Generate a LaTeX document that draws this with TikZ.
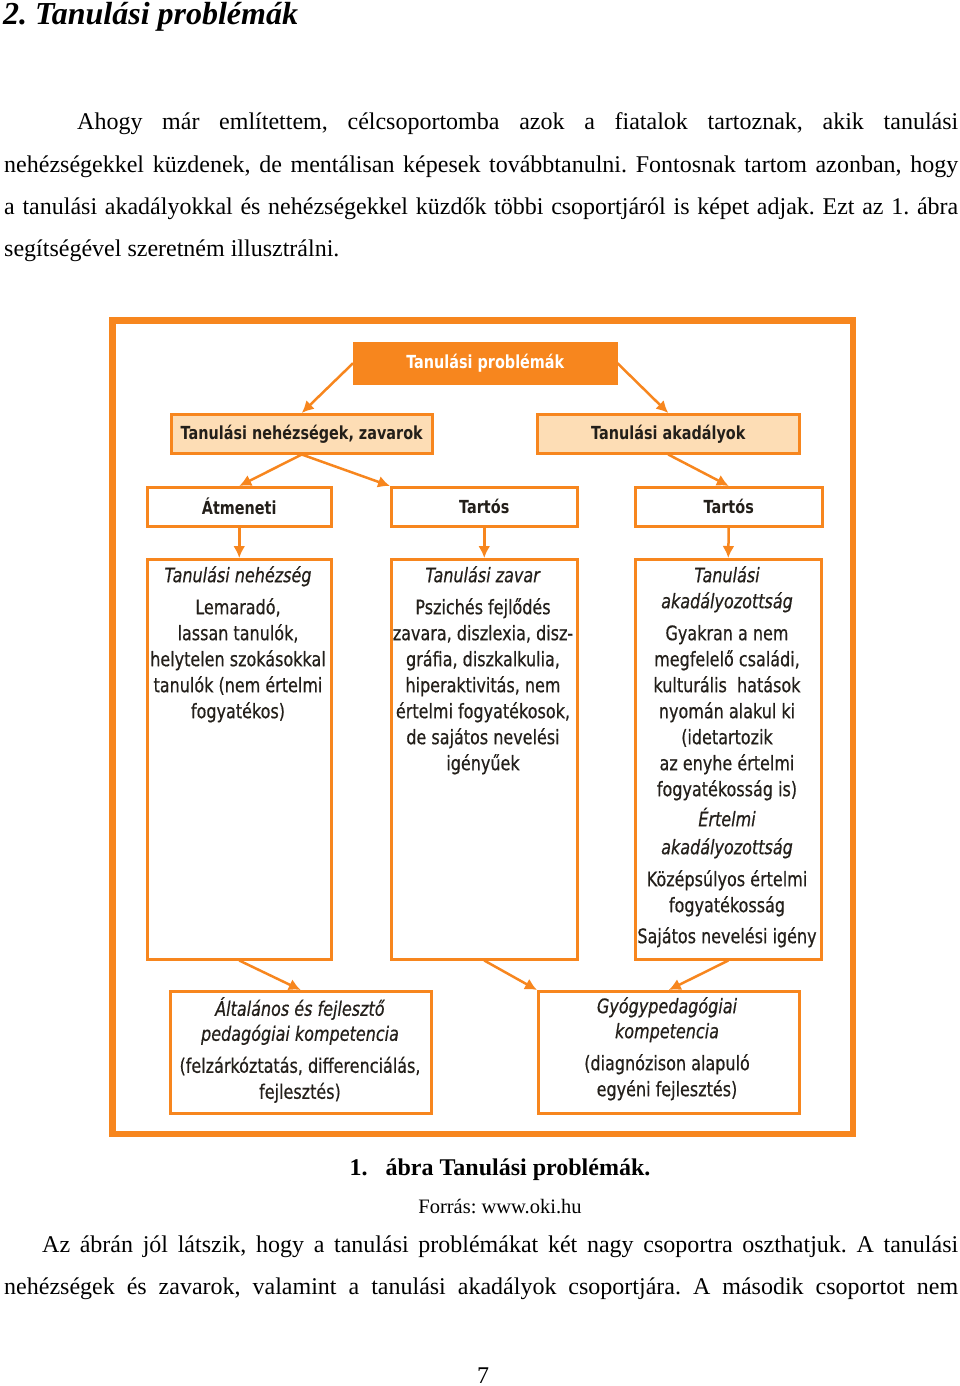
\documentclass[tikz,border=0pt]{standalone}
\usepackage{fontspec}
\setmainfont{Liberation Serif}
\newfontfamily\dgfont[FakeStretch=0.8]{DejaVu Sans}
\newfontfamily\dgfontm[FakeStretch=0.8,FakeBold=0.5]{DejaVu Sans}
\newfontfamily\bodyfont{Liberation Serif}
\usetikzlibrary{arrows.meta}
\definecolor{org}{HTML}{F7861E}
\definecolor{peach}{HTML}{FDDDB5}
\definecolor{ink}{HTML}{231F1A}
\frenchspacing
\tikzset{
  box/.style={draw=org, line width=2.5pt, fill=white, inner sep=0pt, anchor=north west, text=ink,
    font=\dgfont\bfseries\fontsize{18}{22}\selectfont},
  topbox/.style={box, fill=org, draw=org, text=white},
  midbox/.style={box, fill=peach},
  txt/.style={inner sep=0pt, anchor=north, align=center, text=ink, font=\dgfontm\fontsize{20}{26}\selectfont},
  arr/.style={draw=org, line width=2.5pt, -{Latex[length=12pt,width=12pt]}},
  body/.style={inner sep=0pt, anchor=base west, font=\bodyfont\fontsize{24}{28}\selectfont},
}
\begin{document}
\begin{tikzpicture}[x=1pt,y=-1pt]
\useasboundingbox (0,0) rectangle (960,1386);
% page text
\node[body, font=\bodyfont\fontsize{32}{36}\selectfont\bfseries\itshape] (head) at (3,25) {2. Tanulási problémák};
\node[body] (p1) at (77,130) {\makebox[881pt][s]{Ahogy már említettem, célcsoportomba azok a fiatalok tartoznak, akik tanulási}};
\node[body] (p2) at (4,172) {\makebox[954pt][s]{nehézségekkel küzdenek, de mentálisan képesek továbbtanulni. Fontosnak tartom azonban, hogy}};
\node[body] (p3) at (4,214) {\makebox[954pt][s]{a tanulási akadályokkal és nehézségekkel küzdők többi csoportjáról is képet adjak. Ezt az 1. ábra}};
\node[body] (p4) at (4,256) {segítségével szeretném illusztrálni.};

% frame
\draw[org, line width=6.5pt] (112.5,320.5) rectangle (853,1134);

% boxes
\node[topbox, minimum width=262pt, minimum height=40pt] (top) at (353,342) {Tanulási problémák};
\node[midbox, minimum width=261pt, minimum height=39pt] (l2a) at (170,413) {Tanulási nehézségek, zavarok};
\node[midbox, minimum width=262pt, minimum height=39pt] (l2b) at (536,413) {Tanulási akadályok};
\node[box, minimum width=184pt, minimum height=39pt] (l3a) at (146,486) {Átmeneti};
\node[box, minimum width=186pt, minimum height=39pt] (l3b) at (390,486) {Tartós};
\node[box, minimum width=187pt, minimum height=39pt] (l3c) at (634,486) {Tartós};
\node[box, minimum width=184pt, minimum height=400pt] (l4a) at (146,558) {};
\node[box, minimum width=186pt, minimum height=400pt] (l4b) at (390,558) {};
\node[box, minimum width=186pt, minimum height=400pt] (l4c) at (634,558) {};
\node[box, minimum width=261pt, minimum height=122pt] (b1) at (169,990) {};
\node[box, minimum width=261pt, minimum height=122pt] (b2) at (537,990) {};

% box texts
\node[txt] (t4a) at (238,566) {\textit{Tanulási nehézség}\\[6pt]Lemaradó,\\lassan tanulók,\\helytelen szokásokkal\\tanulók (nem értelmi\\fogyatékos)};
\node[txt] (t4b) at (483,566) {\textit{Tanulási zavar}\\[6pt]Pszichés fejlődés\\zavara, diszlexia, disz-\\gráfia, diszkalkulia,\\hiperaktivitás, nem\\értelmi fogyatékosok,\\de sajátos nevelési\\igényűek};
\node[txt] (t4c) at (727,566) {\textit{Tanulási}\\\textit{akadályozottság}\\[6pt]Gyakran a nem\\megfelelő családi,\\kulturális\ \ hatások\\nyomán alakul ki\\(idetartozik\\az enyhe értelmi\\fogyatékosság is)\\[4pt]\textit{Értelmi}\\[2pt]\textit{akadályozottság}\\[6pt]Középsúlyos értelmi\\fogyatékosság\\[5pt]Sajátos nevelési igény};
\node[txt] (tb1) at (300,997) {\textit{Általános és fejlesztő}\\[-1pt]\textit{pedagógiai kompetencia}\\[6pt](felzárkóztatás, differenciálás,\\fejlesztés)};
\node[txt] (tb2) at (667,997) {\textit{Gyógypedagógiai}\\[-1pt]\textit{kompetencia}\\[6pt](diagnózison alapuló\\egyéni fejlesztés)};

% arrows
\draw[arr] (top.west) -- (l2a.north);
\draw[arr] (top.east) -- (l2b.north);
\draw[arr] (l2a.south) -- (l3a.north);
\draw[arr] (l2a.south) -- (l3b.north west);
\draw[arr] (l2b.south) -- (l3c.north);
\draw[arr] (l3a.south) -- (l4a.north);
\draw[arr] (l3b.south) -- (l4b.north);
\draw[arr] (l3c.south) -- (l4c.north);
\draw[arr] (l4a.south) -- (b1.north);
\draw[arr] (l4b.south) -- (b2.north west);
\draw[arr] (l4c.south) -- (b2.north);

% caption and following text
\node[body, anchor=base, font=\bodyfont\fontsize{24}{28}\selectfont\bfseries] (cap) at (500,1175) {1.\hspace{18pt}ábra Tanulási problémák.};
\node[body, anchor=base, font=\bodyfont\fontsize{20.5}{24}\selectfont] (src) at (500,1213) {Forrás: www.oki.hu};
\node[body] (q1) at (42,1252) {\makebox[916pt][s]{Az ábrán jól látszik, hogy a tanulási problémákat két nagy csoportra oszthatjuk. A tanulási}};
\node[body] (q2) at (4,1294) {\makebox[954pt][s]{nehézségek és zavarok, valamint a tanulási akadályok csoportjára. A második csoportot nem}};
\node[body, anchor=base] (pg) at (483,1383) {7};
\end{tikzpicture}
\end{document}
